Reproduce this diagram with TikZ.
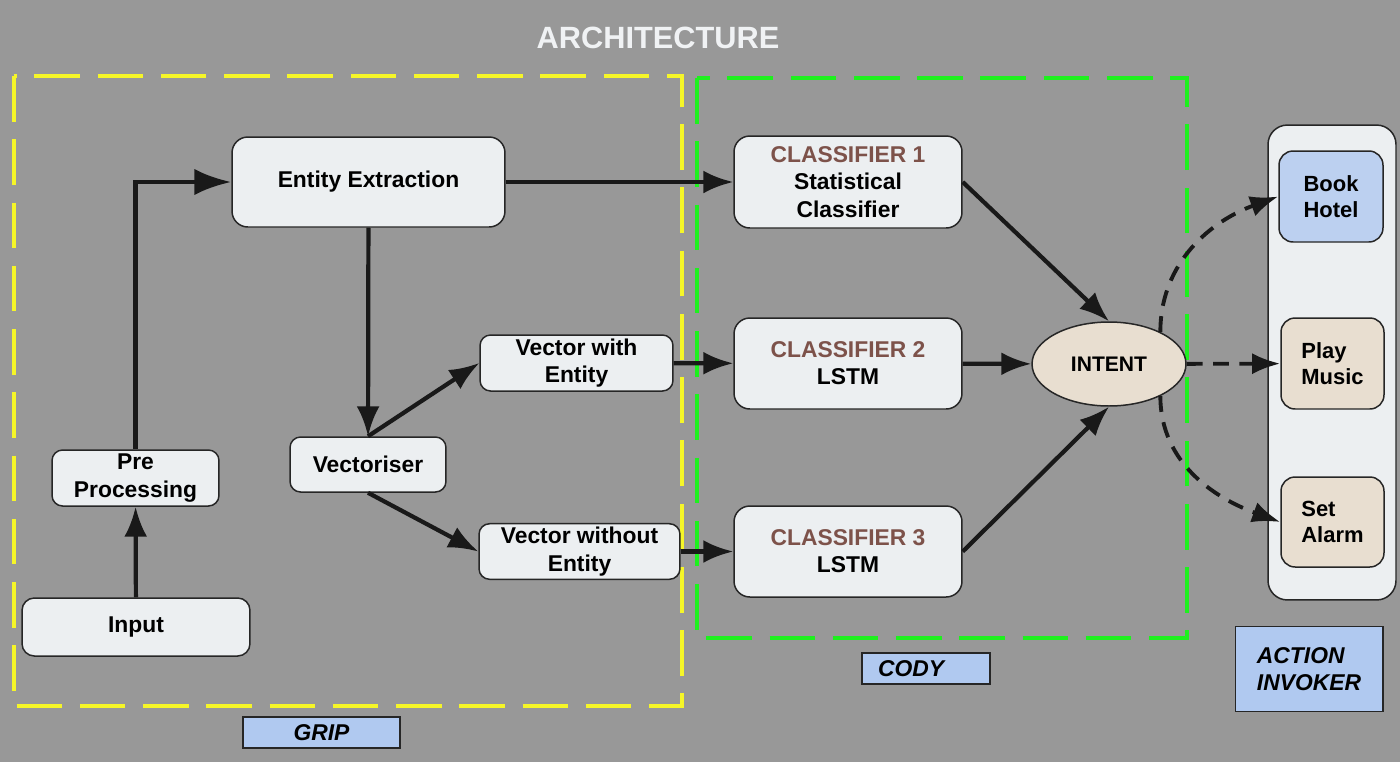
\documentclass[tikz,border=0pt]{standalone}
\usepackage{fontspec}
\setmainfont{Liberation Sans}
\usetikzlibrary{arrows.meta,shapes.geometric}

\definecolor{bggray}{RGB}{152,152,152}
\definecolor{boxfill}{RGB}{236,239,241}
\definecolor{gripyellow}{RGB}{246,246,40}
\definecolor{codygreen}{RGB}{30,240,30}
\definecolor{tagblue}{RGB}{176,201,240}
\definecolor{hotelblue}{RGB}{188,208,240}
\definecolor{beige}{RGB}{232,222,208}
\definecolor{clsbrown}{RGB}{125,82,74}
\definecolor{titlewhite}{RGB}{240,242,244}

\begin{document}
\begin{tikzpicture}[x=0.02cm, y=0.02cm,
  box/.style={draw=black!85, line width=0.85pt, fill=boxfill, rounded corners=8pt, align=center, inner sep=2pt, font=\fontsize{13}{15.5}\selectfont\bfseries},
  smallbox/.style={box, align=left, font=\fontsize{12.5}{14.7}\selectfont\bfseries},
  labelbox/.style={draw=black!85, line width=0.6pt, fill=tagblue, align=left, inner sep=0pt, font=\fontsize{13}{15.5}\selectfont\bfseries\itshape},
  groupframe/.style={line width=2.8pt, dash pattern=on 26pt off 10pt},
  flow/.style={-{Latex[length=17pt,width=13pt]}, line width=2.4pt, black!90},
  calls/.style={-{Latex[length=16pt,width=12pt]}, line width=2.2pt, black!90, dash pattern=on 9pt off 6pt}]
\useasboundingbox (0,0) rectangle (1400,-762);
\fill[bggray] (0,0) rectangle (1400,-762);

\node[font=\fontsize{17.5}{20}\selectfont\bfseries, text=titlewhite] at (658,-38) (title) {ARCHITECTURE};

\draw[groupframe, gripyellow] (14,-76) rectangle (682,-706);
\draw[groupframe, codygreen] (697,-78) rectangle (1187,-638);

\node[box, minimum width=5.46cm, minimum height=1.8cm, rounded corners=9pt] at (368.5,-182) (ee) {Entity Extraction};
\node[box, minimum width=3.34cm, minimum height=1.12cm, rounded corners=6pt] at (135.5,-478) (pre) {Pre\\Processing};
\node[box, minimum width=4.56cm, minimum height=1.16cm, rounded corners=7pt] at (136,-627) (input) {Input};
\node[box, minimum width=3.12cm, minimum height=1.1cm, rounded corners=6pt] at (368,-464.5) (vect) {Vectoriser};
\node[box, minimum width=3.86cm, minimum height=1.12cm, rounded corners=6pt] at (576.5,-363) (vwe) {Vector with\\Entity};
\node[box, minimum width=4.02cm, minimum height=1.1cm, rounded corners=6pt] at (579.5,-551.5) (vwoe) {Vector without\\Entity};

\node[box, minimum width=4.56cm, minimum height=1.84cm, rounded corners=9pt] at (848,-182) (cl1) {\textcolor{clsbrown}{CLASSIFIER 1}\\Statistical\\Classifier};
\node[box, minimum width=4.56cm, minimum height=1.82cm, rounded corners=9pt] at (848,-363.5) (cl2) {\textcolor{clsbrown}{CLASSIFIER 2}\\LSTM};
\node[box, minimum width=4.56cm, minimum height=1.82cm, rounded corners=9pt] at (848,-551.5) (cl3) {\textcolor{clsbrown}{CLASSIFIER 3}\\LSTM};

\node[box, ellipse, fill=beige, inner sep=0pt, minimum width=3.08cm, minimum height=1.68cm, font=\fontsize{12}{14.7}\selectfont\bfseries] at (1109,-364) (intent) {INTENT};

\node[box, minimum width=2.56cm, minimum height=9.5cm, rounded corners=11pt] at (1332,-362.5) (invoker) {};
\node[smallbox, fill=hotelblue, minimum width=2.08cm, minimum height=1.82cm] at (1331,-196.5) (hotel) {Book\\Hotel};
\node[smallbox, fill=beige, minimum width=2.06cm, minimum height=1.82cm] at (1332.5,-363.5) (music) {Play\\Music};
\node[smallbox, fill=beige, minimum width=2.06cm, minimum height=1.8cm] at (1332.5,-522) (alarm) {Set\\Alarm};

\node[labelbox, align=center, minimum width=3.14cm, minimum height=0.62cm] at (321.5,-732.5) (grip) {GRIP};
\node[labelbox, text width=1.92cm, inner xsep=0.32cm, minimum height=0.62cm] at (926,-668.5) (cody) {CODY};
\node[labelbox, minimum width=2.96cm, minimum height=1.7cm] at (1309,-669) (action) {ACTION\\INVOKER};

\draw[flow] (input) -- (pre);
\draw[flow, line width=2.8pt, -{Latex[length=21pt,width=15pt]}] (pre.north) |- (ee.west);
\draw[flow] (ee) -- (vect);
\draw[flow] (vect.north) -- (vwe.west);
\draw[flow] (vect.south) -- (vwoe.west);
\draw[flow] (ee) -- (cl1);
\draw[flow] (vwe) -- (cl2);
\draw[flow] (vwoe) -- (cl3);
\draw[flow] (cl1.east) -- (intent.north);
\draw[flow] (cl2) -- (intent);
\draw[flow] (cl3.east) -- (intent.south);
\draw[calls] (intent.32) to[out=90, in=200] (hotel.west);
\draw[calls] (intent) -- (music);
\draw[calls] (intent.-32) to[out=-90, in=160] (alarm.west);
\end{tikzpicture}
\end{document}
